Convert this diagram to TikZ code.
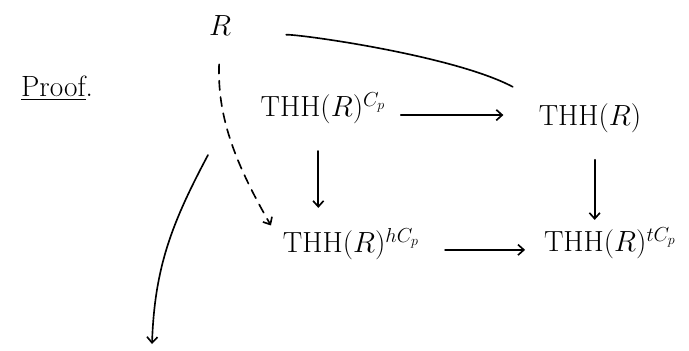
\documentclass[tikz,border=0pt]{standalone}
\usetikzlibrary{arrows.meta,positioning}
\tikzset{
  obj/.style={inner sep=2pt,font=\fontsize{25}{29}\selectfont},
  arr/.style={-{Straight Barb[length=5pt,width=9pt]},line width=1.4pt,line cap=round},
  plainline/.style={line width=1.4pt,line cap=round},
  dasharr/.style={arr,dash pattern=on 8pt off 6pt}
}

\begin{document}
\begin{tikzpicture}[x=0.03cm,y=-0.03cm]
  \useasboundingbox (0,0) rectangle (689,350);

  % the square
  \node[obj] (proof) at (57,88) {\underline{Proof}.};
  \node[obj] (R) at (220,26) {$R$};
  \node[obj] (fix) at (323,108) {$\mathrm{THH}(R)^{C_p}$};
  \node[obj] (thh) at (590,118) {$\mathrm{THH}(R)$};
  \node[obj] (hfix) at (351,244) {$\mathrm{THH}(R)^{hC_p}$};
  \node[obj] (tate) at (610,243) {$\mathrm{THH}(R)^{tC_p}$};
  \coordinate (lstart) at (208,155);
  \coordinate (lend) at (152,344);

  \draw[plainline,shorten <=45pt] ([yshift=-9pt]R.east) to[out=2,in=152,looseness=0.6] ([xshift=-20pt,yshift=12pt]thh.north west);
  \draw[arr,shorten <=11pt,shorten >=28pt] ([yshift=-6pt]fix.east) -- ([yshift=-6pt]fix.east -| thh.west);
  \draw[arr,shorten <=20pt,shorten >=14pt] ([yshift=-5pt]hfix.east) -- ([yshift=-5pt]hfix.east -| tate.west);
  \draw[arr,shorten <=21pt,shorten >=15pt] ([xshift=-4pt]fix.south) -- ([xshift=-4pt]fix.south |- hfix.north);
  \draw[arr,shorten <=21pt,shorten >=4pt] ([xshift=4pt]thh.south) -- ([xshift=4pt]thh.south |- tate.north);
  \draw[dasharr,shorten <=22pt] (R.south) to[out=-92,in=120] ([xshift=-8pt]hfix.north west);
  \draw[arr] (lstart) to[out=-118,in=88] (lend);
\end{tikzpicture}
\end{document}
